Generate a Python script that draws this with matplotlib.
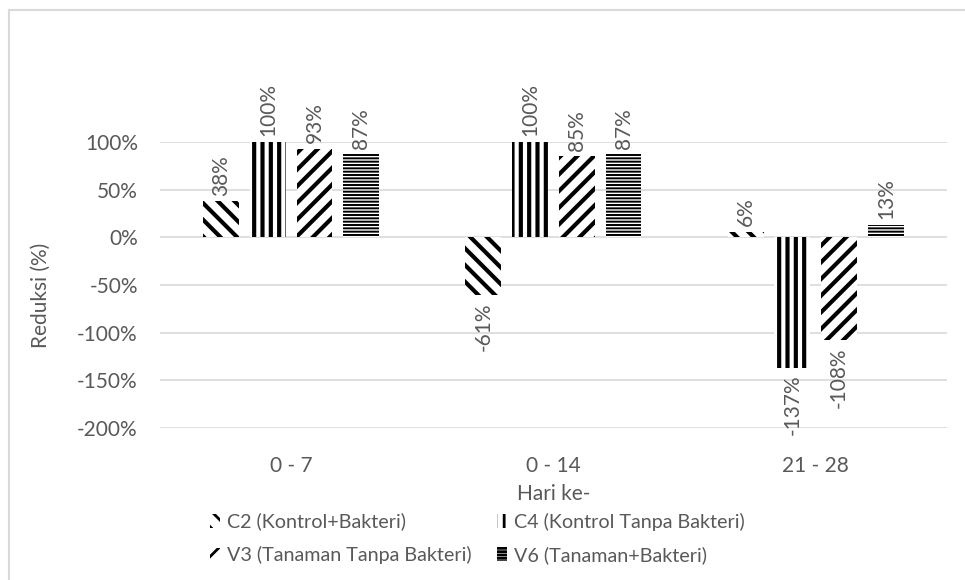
import numpy as np
import matplotlib
matplotlib.use('Agg')
import matplotlib.pyplot as plt
from matplotlib.lines import Line2D

plt.rcParams['font.family'] = ['Lato', 'DejaVu Sans']

# reduksi per periode (%)
periode = ['0 - 7', '0 - 14', '21 - 28']
c2 = [38, -61, 6]
c4 = [100, 100, -137]
v3 = [93, 85, -108]
v6 = [87, 87, 13]
nama = ['C2 (Kontrol+Bakteri)', 'C4 (Kontrol Tanpa Bakteri)',
        'V3 (Tanaman Tanpa Bakteri)', 'V6 (Tanaman+Bakteri)']

abu = '#595959'
fs = 15

fig = plt.figure(figsize=(9.65, 5.8), dpi=100)
ax = fig.add_axes([0.1658, 0.2621, 0.8155, 0.4931])

x = np.arange(len(periode))
lebar = 0.137
jarak = 0.178
seri = [c2, c4, v3, v6]
pola = ['\\\\', '||', '//', '-----']
tebal = [3.0, 3.0, 3.0, 1.4]
bars = []
for i, (nilai, h, lw) in enumerate(zip(seri, pola, tebal)):
    plt.rcParams['hatch.linewidth'] = lw
    b = ax.bar(x + (i - 1.5) * jarak, np.array(nilai) / 100., lebar,
               color='white', edgecolor='black', linewidth=0, hatch=h,
               label=nama[i], zorder=2)
    bars.append(b)
    for xi, v in zip(x + (i - 1.5) * jarak, nilai):
        ax.annotate('%d%%' % v, (xi, v / 100.),
                    xytext=(0, 4 if v >= 0 else -5), textcoords='offset points',
                    rotation=90, ha='center', va='bottom' if v >= 0 else 'top',
                    color=abu, fontsize=fs, annotation_clip=False)

ax.set_xlim(-0.5, 2.5)
ax.set_ylim(-2, 1)
ax.set_yticks(np.arange(-2, 1.01, 0.5))
ax.set_yticklabels(['%d%%' % v for v in np.arange(-200, 101, 50)])
ax.set_xticks(x)
ax.set_xticklabels(periode)
ax.tick_params(length=0, colors=abu, labelsize=fs)
ax.tick_params(axis='x', pad=20)
ax.tick_params(axis='y', pad=16)
for s in ax.spines.values():
    s.set_visible(False)
ax.grid(axis='y', color='#d9d9d9', linewidth=1.2, zorder=0)
ax.set_axisbelow(True)

ax.set_xlabel('Hari ke-', color=abu, fontsize=fs, labelpad=6)
fig.text(0.042, 0.49, 'Reduksi (%)', rotation=90, ha='center', va='center',
         color=abu, fontsize=fs)

# legenda dua kolom (isi per baris)
urutan = [0, 2, 1, 3]
plt.rcParams['hatch.linewidth'] = 2.0
leg = fig.legend([bars[k] for k in urutan], [nama[k] for k in urutan],
                 ncol=2, loc='upper left', bbox_to_anchor=(0.199, 0.147),
                 frameon=False, fontsize=14.2, handlelength=0.5,
                 handleheight=0.7, handletextpad=0.35, columnspacing=1.3,
                 labelspacing=0.8)
for t in leg.get_texts():
    t.set_color(abu)

# bingkai grafik
fig.add_artist(Line2D([9 / 965, 1], [1 - 10 / 580, 1 - 10 / 580],
                      color='#d9d9d9', linewidth=1.5, transform=fig.transFigure))
fig.add_artist(Line2D([9 / 965, 9 / 965], [0, 1 - 10 / 580],
                      color='#d9d9d9', linewidth=1.5, transform=fig.transFigure))

fig.savefig('out.png', dpi=100)
